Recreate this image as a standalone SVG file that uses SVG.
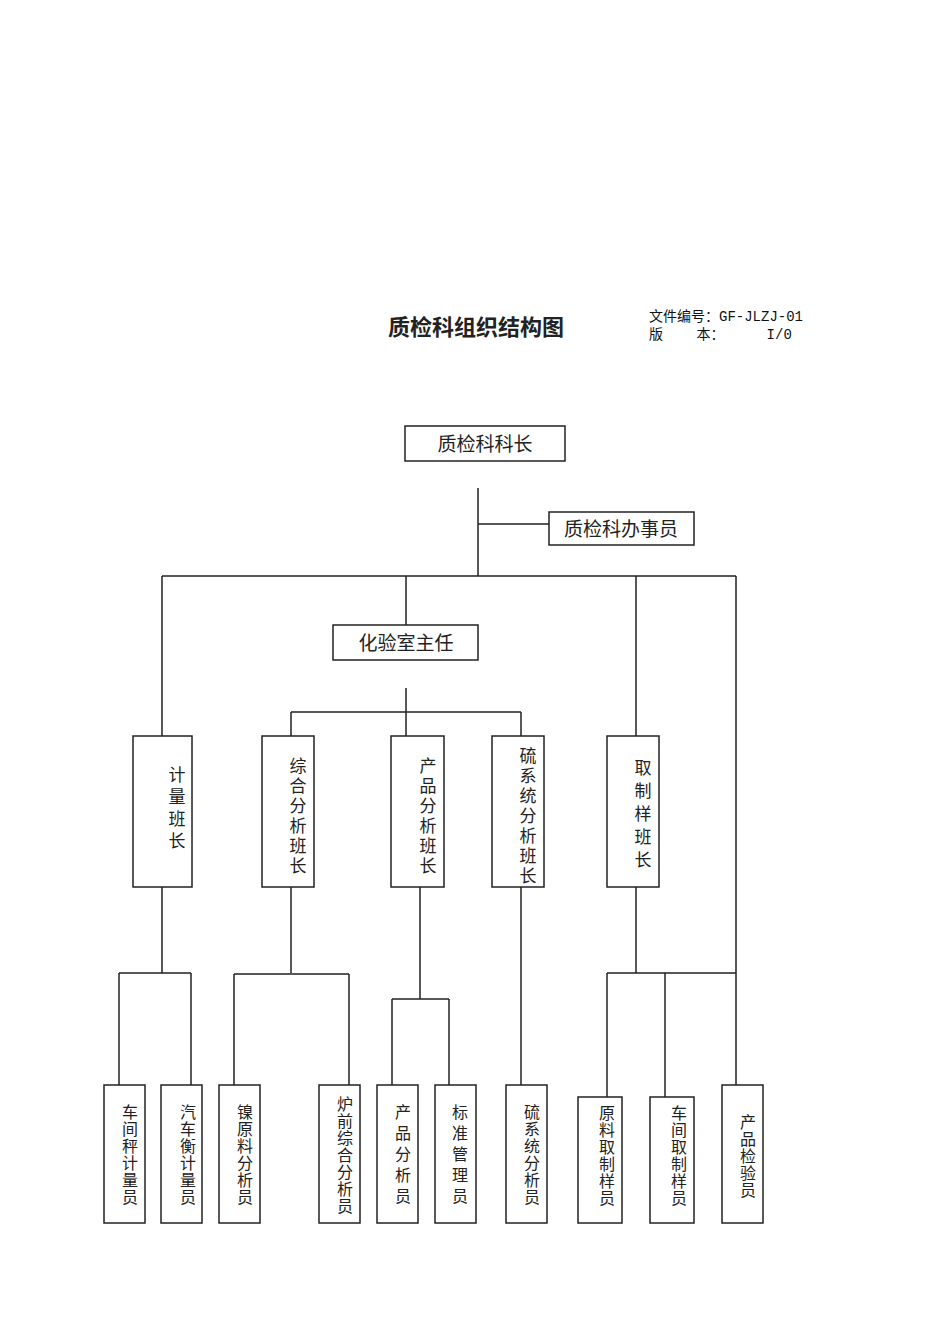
<svg xmlns="http://www.w3.org/2000/svg" width="950" height="1344" viewBox="0 0 950 1344">
<style>
.b{fill:#fff;stroke:#222;stroke-width:1.5}
.l{stroke:#222;stroke-width:1.5;fill:none}
.t{font-family:"Liberation Serif","Noto Sans CJK SC",serif;font-size:19px;fill:#222;text-anchor:middle;dominant-baseline:central}
.v{font-family:"Liberation Serif","Noto Sans CJK SC",serif;font-size:17px;fill:#222;text-anchor:middle;dominant-baseline:central}
.s{font-size:16px}
.h{font-family:"Liberation Mono","Noto Sans CJK SC",monospace;font-size:14px;fill:#111}
</style>
<rect width="950" height="1344" fill="#fff"/>
<text x="476" y="325" class="t" style="font-size:22px;font-weight:bold;font-family:'Noto Sans CJK SC',sans-serif">质检科组织结构图</text>
<text x="649" y="321" class="h">文件编号：GF-JLZJ-01</text>
<text x="649" y="339" class="h" xml:space="preserve">版    本：     I/0</text>
<g id="connectors" class="l">
<path d="M478 488V576M478 524H549M162 576H736M162 576V736M406 576V625M636 576V736M736 576V1085"/>
<path d="M406 688V712M291 712H521M291 712V736M406 712V736M521 712V736"/>
<path d="M162 887V973M119 973H191M119 973V1085M191 973V1085"/>
<path d="M291 887V973M234 974H349M234 974V1085M349 974V1085"/>
<path d="M420 887V999M392 999H449M392 999V1085M449 999V1085"/>
<path d="M521 887V1085"/>
<path d="M636 887V973M607 973H736M607 973V1097M665 973V1097"/>
</g>
<g id="n1"><rect class="b" x="405" y="426" width="160" height="35"/><text class="t" x="485" y="444">质检科科长</text></g>
<g id="n2"><rect class="b" x="549" y="512" width="145" height="33"/><text class="t" x="621" y="529">质检科办事员</text></g>
<g id="n3"><rect class="b" x="333" y="625" width="145" height="35"/><text class="t" x="406" y="643">化验室主任</text></g>
<g id="n4"><rect class="b" x="133" y="736" width="59" height="151"/><text class="v" x="177"><tspan x="177" y="775">计</tspan><tspan x="177" y="797">量</tspan><tspan x="177" y="819">班</tspan><tspan x="177" y="841">长</tspan></text></g>
<g id="n5"><rect class="b" x="262" y="736" width="52" height="151"/><text class="v" x="298"><tspan x="298" y="766">综</tspan><tspan x="298" y="786">合</tspan><tspan x="298" y="806">分</tspan><tspan x="298" y="826">析</tspan><tspan x="298" y="846">班</tspan><tspan x="298" y="866">长</tspan></text></g>
<g id="n6"><rect class="b" x="391" y="736" width="53" height="151"/><text class="v"><tspan x="428" y="766">产</tspan><tspan x="428" y="786">品</tspan><tspan x="428" y="806">分</tspan><tspan x="428" y="826">析</tspan><tspan x="428" y="846">班</tspan><tspan x="428" y="866">长</tspan></text></g>
<g id="n7"><rect class="b" x="492" y="736" width="52" height="151"/><text class="v"><tspan x="528" y="756">硫</tspan><tspan x="528" y="776">系</tspan><tspan x="528" y="796">统</tspan><tspan x="528" y="816">分</tspan><tspan x="528" y="836">析</tspan><tspan x="528" y="856">班</tspan><tspan x="528" y="876">长</tspan></text></g>
<g id="n8"><rect class="b" x="607" y="736" width="52" height="151"/><text class="v"><tspan x="643" y="768">取</tspan><tspan x="643" y="791">制</tspan><tspan x="643" y="814">样</tspan><tspan x="643" y="837">班</tspan><tspan x="643" y="860">长</tspan></text></g>
<g id="n9"><rect class="b" x="104" y="1085" width="41" height="138"/><text class="v s"><tspan x="130" y="1112">车</tspan><tspan x="130" y="1129">间</tspan><tspan x="130" y="1146">秤</tspan><tspan x="130" y="1163">计</tspan><tspan x="130" y="1180">量</tspan><tspan x="130" y="1197">员</tspan></text></g>
<g id="n10"><rect class="b" x="161" y="1085" width="41" height="138"/><text class="v s"><tspan x="188" y="1112">汽</tspan><tspan x="188" y="1129">车</tspan><tspan x="188" y="1146">衡</tspan><tspan x="188" y="1163">计</tspan><tspan x="188" y="1180">量</tspan><tspan x="188" y="1197">员</tspan></text></g>
<g id="n11"><rect class="b" x="219" y="1085" width="41" height="138"/><text class="v s"><tspan x="245" y="1112">镍</tspan><tspan x="245" y="1129">原</tspan><tspan x="245" y="1146">料</tspan><tspan x="245" y="1163">分</tspan><tspan x="245" y="1180">析</tspan><tspan x="245" y="1197">员</tspan></text></g>
<g id="n12"><rect class="b" x="319" y="1085" width="41" height="138"/><text class="v s"><tspan x="345" y="1104">炉</tspan><tspan x="345" y="1121">前</tspan><tspan x="345" y="1138">综</tspan><tspan x="345" y="1155">合</tspan><tspan x="345" y="1172">分</tspan><tspan x="345" y="1189">析</tspan><tspan x="345" y="1206">员</tspan></text></g>
<g id="n13"><rect class="b" x="377" y="1085" width="41" height="138"/><text class="v s"><tspan x="403" y="1112">产</tspan><tspan x="403" y="1133">品</tspan><tspan x="403" y="1154">分</tspan><tspan x="403" y="1175">析</tspan><tspan x="403" y="1196">员</tspan></text></g>
<g id="n14"><rect class="b" x="435" y="1085" width="41" height="138"/><text class="v s"><tspan x="460" y="1112">标</tspan><tspan x="460" y="1133">准</tspan><tspan x="460" y="1154">管</tspan><tspan x="460" y="1175">理</tspan><tspan x="460" y="1196">员</tspan></text></g>
<g id="n15"><rect class="b" x="506" y="1085" width="41" height="138"/><text class="v s"><tspan x="532" y="1112">硫</tspan><tspan x="532" y="1129">系</tspan><tspan x="532" y="1146">统</tspan><tspan x="532" y="1163">分</tspan><tspan x="532" y="1180">析</tspan><tspan x="532" y="1197">员</tspan></text></g>
<g id="n16"><rect class="b" x="578" y="1097" width="44" height="126"/><text class="v s"><tspan x="607" y="1113">原</tspan><tspan x="607" y="1130">料</tspan><tspan x="607" y="1147">取</tspan><tspan x="607" y="1164">制</tspan><tspan x="607" y="1181">样</tspan><tspan x="607" y="1198">员</tspan></text></g>
<g id="n17"><rect class="b" x="650" y="1097" width="44" height="126"/><text class="v s"><tspan x="679" y="1113">车</tspan><tspan x="679" y="1130">间</tspan><tspan x="679" y="1147">取</tspan><tspan x="679" y="1164">制</tspan><tspan x="679" y="1181">样</tspan><tspan x="679" y="1198">员</tspan></text></g>
<g id="n18"><rect class="b" x="722" y="1085" width="41" height="138"/><text class="v s"><tspan x="748" y="1122">产</tspan><tspan x="748" y="1139">品</tspan><tspan x="748" y="1156">检</tspan><tspan x="748" y="1173">验</tspan><tspan x="748" y="1190">员</tspan></text></g>
</svg>
